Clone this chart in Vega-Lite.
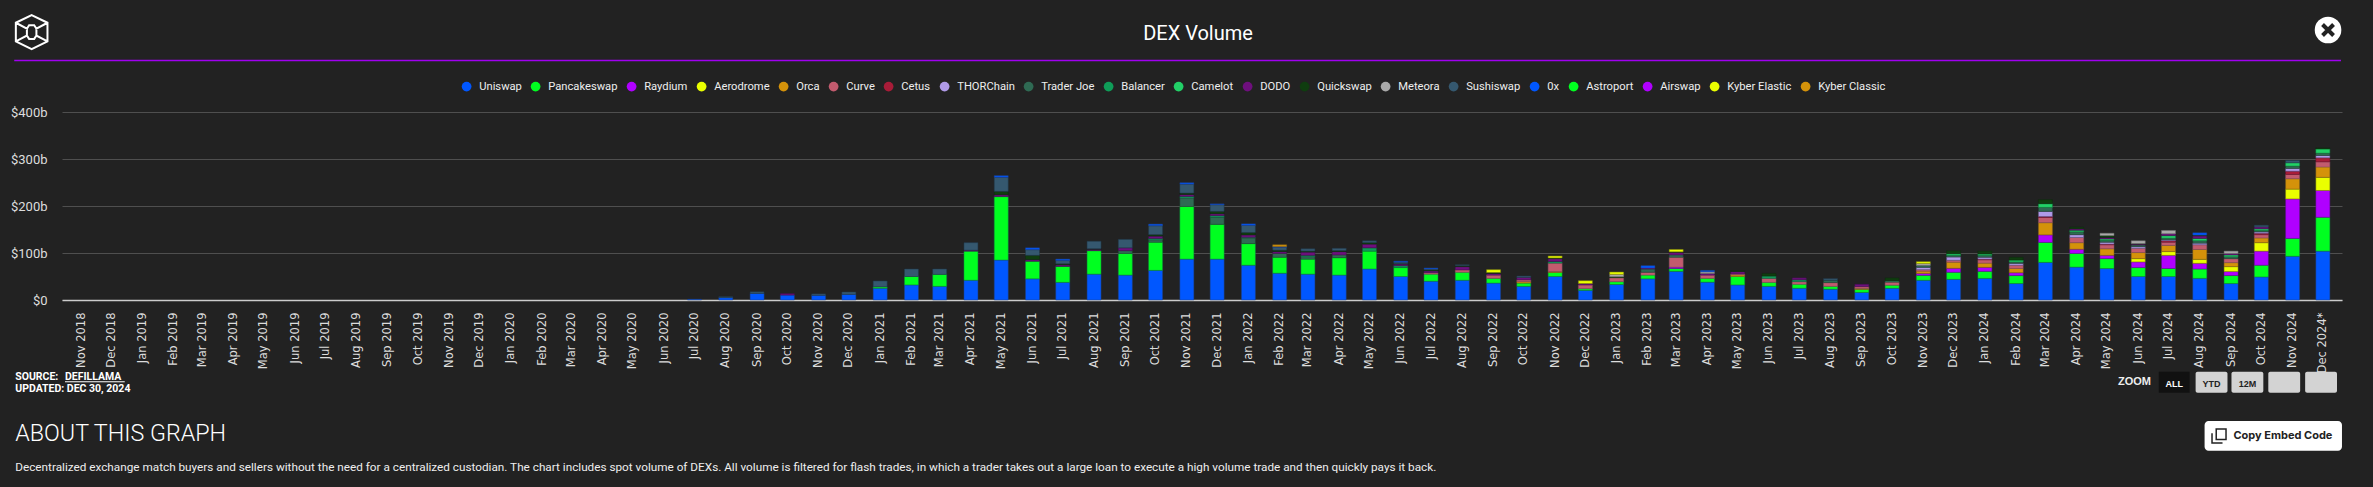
{"$schema":"https://vega.github.io/schema/vega-lite/v6.json","width":2280,"height":188,"autosize":{"type":"none"},"padding":{"left":62,"top":112,"right":31,"bottom":187},"background":"#222222","view":{"stroke":null},"config":{"font":"Roboto"},
"data":{"values":[
{"month":"2020-07-01","Uniswap":1.5},
{"month":"2020-08-01","Uniswap":5,"Sushiswap":2},
{"month":"2020-09-01","Uniswap":14,"Sushiswap":3.5},
{"month":"2020-10-01","Uniswap":10.5,"DODO":3},
{"month":"2020-11-01","Uniswap":10,"Sushiswap":3},
{"month":"2020-12-01","Uniswap":12,"Sushiswap":5},
{"month":"2021-01-01","Uniswap":25,"Pancakeswap":3,"Sushiswap":12.5},
{"month":"2021-02-01","Uniswap":32,"Pancakeswap":18,"Sushiswap":16},
{"month":"2021-03-01","Uniswap":29,"Pancakeswap":25.5,"Sushiswap":11.5},
{"month":"2021-04-01","Uniswap":42,"Pancakeswap":62,"DODO":2,"Sushiswap":16},
{"month":"2021-05-01","Uniswap":85,"Pancakeswap":135,"DODO":4,"Quickswap":7,"Sushiswap":30,"0x":3.5},
{"month":"2021-06-01","Uniswap":45,"Pancakeswap":37.5,"DODO":3.5,"Quickswap":9,"Sushiswap":12,"0x":4},
{"month":"2021-07-01","Uniswap":37.5,"Pancakeswap":34,"DODO":3.5,"Quickswap":2,"Sushiswap":7,"0x":3},
{"month":"2021-08-01","Uniswap":55,"Pancakeswap":50,"DODO":3,"Quickswap":1,"Sushiswap":16},
{"month":"2021-09-01","Uniswap":53,"Pancakeswap":46,"Trader Joe":6,"DODO":6,"Sushiswap":18},
{"month":"2021-10-01","Uniswap":63,"Pancakeswap":60,"Trader Joe":5,"Balancer":3,"DODO":5,"Quickswap":3,"Sushiswap":19,"0x":3.5},
{"month":"2021-11-01","Uniswap":87,"Pancakeswap":112,"Trader Joe":18,"Balancer":3.5,"DODO":4,"Quickswap":3,"Sushiswap":19,"0x":3},
{"month":"2021-12-01","Uniswap":87,"Pancakeswap":74,"Trader Joe":15,"Balancer":3.5,"DODO":4,"Quickswap":5,"Sushiswap":14,"0x":2},
{"month":"2022-01-01","Uniswap":74,"Pancakeswap":46,"Trader Joe":12,"Balancer":1.5,"DODO":5,"Quickswap":5,"Sushiswap":15,"0x":3.5},
{"month":"2022-02-01","Uniswap":57,"Pancakeswap":34,"Trader Joe":8,"DODO":4,"Quickswap":3,"Sushiswap":6,"0x":1.5,"Kyber Classic":4},
{"month":"2022-03-01","Uniswap":55,"Pancakeswap":32,"Trader Joe":5,"Balancer":3,"DODO":7,"Quickswap":2,"Sushiswap":5},
{"month":"2022-04-01","Uniswap":53,"Pancakeswap":37,"Trader Joe":6,"DODO":7,"Quickswap":2,"Sushiswap":5},
{"month":"2022-05-01","Uniswap":66,"Pancakeswap":38,"Balancer":7,"DODO":8,"Quickswap":3,"Sushiswap":4},
{"month":"2022-06-01","Uniswap":50,"Pancakeswap":19,"Balancer":4,"DODO":3.5,"Quickswap":1,"Sushiswap":3,"0x":2},
{"month":"2022-07-01","Uniswap":40,"Pancakeswap":15,"Curve":3,"DODO":4,"Quickswap":2,"Sushiswap":2,"0x":2},
{"month":"2022-08-01","Uniswap":42,"Pancakeswap":17,"Curve":5,"DODO":7,"Quickswap":2,"Sushiswap":2},
{"month":"2022-09-01","Uniswap":36,"Pancakeswap":10,"Curve":7,"DODO":3.5,"Quickswap":2,"Kyber Elastic":6},
{"month":"2022-10-01","Uniswap":29,"Pancakeswap":7,"Orca":3,"Curve":4,"DODO":5,"Sushiswap":3},
{"month":"2022-11-01","Uniswap":50,"Pancakeswap":8.5,"Orca":2,"Curve":18,"Balancer":3.5,"DODO":6,"Quickswap":1.5,"Kyber Elastic":4},
{"month":"2022-12-01","Uniswap":20.5,"Pancakeswap":3.5,"Curve":8,"DODO":3,"Kyber Elastic":6},
{"month":"2023-01-01","Uniswap":33,"Pancakeswap":6,"Curve":8.5,"Meteora":5,"Quickswap":2,"Kyber Elastic":5},
{"month":"2023-02-01","Uniswap":45,"Pancakeswap":8,"Curve":6,"Trader Joe":7,"DODO":2,"0x":5},
{"month":"2023-03-01","Uniswap":61,"Pancakeswap":6,"Raydium":3,"Curve":21,"Trader Joe":5,"DODO":5.5,"Quickswap":1,"Kyber Elastic":5},
{"month":"2023-04-01","Uniswap":38,"Pancakeswap":8,"Curve":7,"Meteora":3.5,"DODO":3.5,"0x":3},
{"month":"2023-05-01","Uniswap":32,"Pancakeswap":18,"Orca":3.5,"Curve":2,"DODO":5,"Quickswap":2},
{"month":"2023-06-01","Uniswap":29,"Pancakeswap":8.5,"Curve":8.5,"Balancer":5,"Quickswap":5.5},
{"month":"2023-07-01","Uniswap":25,"Pancakeswap":8.5,"Curve":5.5,"Balancer":4,"DODO":4},
{"month":"2023-08-01","Uniswap":23,"Pancakeswap":6,"Curve":8,"Trader Joe":5,"Sushiswap":3.5},
{"month":"2023-09-01","Uniswap":16,"Pancakeswap":6.5,"Orca":2,"Curve":4,"DODO":5},
{"month":"2023-10-01","Uniswap":25,"Pancakeswap":6.5,"Curve":6.5,"Trader Joe":3.5,"Quickswap":5.5},
{"month":"2023-11-01","Uniswap":42,"Pancakeswap":10.5,"Raydium":4,"Orca":5,"Curve":3,"THORChain":5,"Trader Joe":4,"Meteora":4,"Kyber Elastic":4},
{"month":"2023-12-01","Uniswap":44,"Pancakeswap":15,"Raydium":8.5,"Orca":13,"Curve":4,"THORChain":7,"Trader Joe":3.5,"Camelot":3.5,"Quickswap":6},
{"month":"2024-01-01","Uniswap":46,"Pancakeswap":15,"Raydium":8.5,"Orca":9,"Curve":7,"Cetus":1.5,"THORChain":4,"Trader Joe":4,"Camelot":3,"Quickswap":6},
{"month":"2024-02-01","Uniswap":35,"Pancakeswap":17,"Raydium":6,"Orca":9,"Curve":7,"THORChain":4,"Trader Joe":3,"Camelot":4,"Quickswap":6},
{"month":"2024-03-01","Uniswap":80,"Pancakeswap":42.5,"Raydium":16,"Orca":26,"Curve":11,"Cetus":2,"THORChain":11,"Trader Joe":8.5,"Camelot":8,"Quickswap":8.5},
{"month":"2024-04-01","Uniswap":70,"Pancakeswap":29,"Raydium":9,"Orca":14,"Curve":11,"THORChain":6,"Trader Joe":6,"Camelot":3.5,"DODO":3,"Quickswap":3.5},
{"month":"2024-05-01","Uniswap":67,"Pancakeswap":21,"Raydium":7,"Orca":14,"Curve":8.5,"Cetus":1.5,"THORChain":4,"Trader Joe":4,"Camelot":3,"DODO":3,"Quickswap":4,"Meteora":5},
{"month":"2024-06-01","Uniswap":50,"Pancakeswap":19,"Raydium":12,"Aerodrome":7,"Orca":13,"Curve":9,"THORChain":3.5,"Trader Joe":3.5,"DODO":2,"Quickswap":1,"Meteora":6},
{"month":"2024-07-01","Uniswap":50,"Pancakeswap":17,"Raydium":28,"Aerodrome":8,"Orca":13,"Curve":7,"Cetus":3,"THORChain":2,"Trader Joe":3.5,"Camelot":5.5,"DODO":4,"Meteora":7},
{"month":"2024-08-01","Uniswap":46,"Pancakeswap":20,"Raydium":12,"Aerodrome":8.5,"Orca":21,"Curve":10,"THORChain":3.5,"Trader Joe":5,"Camelot":5,"DODO":5.5,"Quickswap":1.5,"0x":5},
{"month":"2024-09-01","Uniswap":35,"Pancakeswap":17,"Raydium":8.5,"Aerodrome":10.5,"Orca":8.5,"Curve":8.5,"Trader Joe":4,"Camelot":4,"DODO":3,"Meteora":5},
{"month":"2024-10-01","Uniswap":49,"Pancakeswap":25,"Raydium":30,"Aerodrome":18,"Orca":10,"Curve":7,"Cetus":3,"THORChain":3,"Trader Joe":3,"Camelot":3.5,"DODO":4,"Sushiswap":3.5},
{"month":"2024-11-01","Uniswap":93,"Pancakeswap":38,"Raydium":84,"Aerodrome":21,"Orca":22,"Curve":9,"Cetus":7,"THORChain":6,"Trader Joe":5,"Camelot":7,"Sushiswap":5},
{"month":"2024-12-01","Uniswap":104,"Pancakeswap":72,"Raydium":57,"Aerodrome":28,"Orca":22,"Curve":11,"Cetus":8.5,"THORChain":5,"Trader Joe":5,"Camelot":9,"Quickswap":2}
]},
"layer":[
{"transform":[{"fold":["Uniswap","Pancakeswap","Raydium","Aerodrome","Orca","Curve","Cetus","THORChain","Trader Joe","Balancer","Camelot","DODO","Quickswap","Meteora","Sushiswap","0x","Astroport","Airswap","Kyber Elastic","Kyber Classic"],"as":["dex","volume"]},{"filter":"datum.volume>0"},{"calculate":"indexof(['Uniswap','Pancakeswap','Raydium','Aerodrome','Orca','Curve','Cetus','THORChain','Trader Joe','Balancer','Camelot','DODO','Quickswap','Meteora','Sushiswap','0x','Astroport','Airswap','Kyber Elastic','Kyber Classic'],datum.dex)","as":"rank"}],
"mark":{"type":"bar","size":14,"strokeWidth":1,"strokeOpacity":0.5},
"encoding":{
"x":{"field":"month","type":"temporal","scale":{"type":"utc","domain":["2018-10-18","2024-12-15"]},"axis":{"title":null,"tickCount":{"interval":"month","step":1},"labelExpr":"utcFormat(datum.value,'%b %Y')+(datum.value>1733000000000?'*':'')","labelAngle":-90,"labelAlign":"right","labelBaseline":"middle","labelFont":"DejaVu Sans","labelFontSize":11.5,"labelColor":"#dddddd","labelPadding":12,"labelOverlap":false,"labelBound":false,"labelFlush":false,"ticks":false,"grid":false,"domainColor":"#cccccc","domainWidth":1.5}},
"y":{"field":"volume","type":"quantitative","stack":"zero","scale":{"domain":[0,400],"nice":false},"axis":{"title":null,"values":[0,100,200,300,400],"labelExpr":"'$'+datum.value+(datum.value>0?'b':'')","labelFont":"Roboto","labelFontSize":13,"labelColor":"#dddddd","labelPadding":15,"ticks":false,"domain":false,"grid":true,"gridColor":"#4f4f4f","gridWidth":1}},
"order":{"field":"rank","type":"quantitative"},
"fill":{"field":"dex","type":"nominal","scale":{"domain":["Uniswap","Pancakeswap","Raydium","Aerodrome","Orca","Curve","Cetus","THORChain","Trader Joe","Balancer","Camelot","DODO","Quickswap","Meteora","Sushiswap","0x","Astroport","Airswap","Kyber Elastic","Kyber Classic"],"range":["#0057ff","#00ff20","#b000ff","#eaff00","#d4920a","#c25b6e","#a81c38","#b09ae8","#2f6a53","#0f9d58","#22d067","#6e0f7d","#0f3d0f","#a9a9a9","#35586f","#0057ff","#00ff20","#b000ff","#eaff00","#d4920a"]},"legend":{"title":null,"orient":"none","legendX":399,"legendY":-31,"direction":"horizontal","columns":20,"gridAlign":"none","symbolType":"circle","symbolSize":95,"symbolStrokeWidth":0,"labelFont":"Roboto","labelFontSize":11.2,"labelColor":"#eeeeee","labelOffset":7,"columnPadding":8,"labelLimit":200}},
"stroke":{"field":"dex","type":"nominal","legend":null,"scale":{"domain":["Uniswap","Pancakeswap","Raydium","Aerodrome","Orca","Curve","Cetus","THORChain","Trader Joe","Balancer","Camelot","DODO","Quickswap","Meteora","Sushiswap","0x","Astroport","Airswap","Kyber Elastic","Kyber Classic"],"range":["#1f3f80","#108040","#60108f","#807f10","#80601a","#805060","#701030","#605080","#204030","#106040","#108040","#401050","#102a10","#707070","#20384a","#1f3f80","#108040","#60108f","#807f10","#80601a"]}}
}},
{"data":{"values":[{}]},"mark":{"type":"rule","color":"#a000f0","strokeWidth":1.5},"encoding":{"x":{"datum":1535301850000,"type":"temporal"},"x2":{"datum":1734561850000},"y":{"datum":509.6,"type":"quantitative"}}},
{"data":{"values":[{}]},"mark":{"type":"point","shape":"M0,-1L0.93,-0.55L0.93,0.55L0,1L-0.93,0.55L-0.93,-0.55ZM-0.93,-0.55L-0.28,-0.2L-0.15,-0.4L0.15,-0.4L0.28,-0.2L0.93,-0.55M-0.93,0.55L-0.28,0.2L-0.15,0.4L0.15,0.4L0.28,0.2L0.93,0.55M-0.28,-0.2L-0.28,0.2M0.28,-0.2L0.28,0.2","size":1156,"filled":false,"stroke":"#ffffff","strokeWidth":2,"opacity":1},"encoding":{"x":{"datum":1536793960000,"type":"temporal"},"y":{"datum":570,"type":"quantitative"}}},
{"data":{"values":[{}]},"mark":{"type":"circle","size":707,"color":"#ffffff","opacity":1},"encoding":{"x":{"datum":1733453430000,"type":"temporal"},"y":{"datum":574.5,"type":"quantitative"}}},
{"data":{"values":[{}]},"mark":{"type":"point","shape":"M-1,-1L1,1M-1,1L1,-1","size":121,"filled":false,"stroke":"#222222","strokeWidth":4,"opacity":1},"encoding":{"x":{"datum":1733453430000,"type":"temporal"},"y":{"datum":574.5,"type":"quantitative"}}},
{"data":{"values":[{"t":"DEX Volume"}]},"mark":{"type":"text","font":"Roboto","fontSize":20,"color":"#ffffff","align":"center","baseline":"middle"},"encoding":{"x":{"datum":1636679750000,"type":"temporal"},"y":{"datum":566,"type":"quantitative"},"text":{"field":"t"}}},
{"data":{"values":[{"t":"SOURCE:"}]},"mark":{"type":"text","font":"Roboto","fontWeight":"bold","fontSize":10.5,"color":"#ffffff","align":"left","baseline":"middle"},"encoding":{"x":{"datum":1535387120000,"type":"temporal"},"y":{"datum":-163.8,"type":"quantitative"},"text":{"field":"t"}}},
{"data":{"values":[{"t":"DEFILLAMA"}]},"mark":{"type":"text","font":"Roboto","fontWeight":"bold","fontSize":10.5,"color":"#ffffff","align":"left","baseline":"middle"},"encoding":{"x":{"datum":1539650274000,"type":"temporal"},"y":{"datum":-163.8,"type":"quantitative"},"text":{"field":"t"}}},
{"data":{"values":[{}]},"mark":{"type":"rule","color":"#ffffff","strokeWidth":1},"encoding":{"x":{"datum":1539650274000,"type":"temporal"},"x2":{"datum":1544766063000},"y":{"datum":-174,"type":"quantitative"}}},
{"data":{"values":[{"t":"UPDATED: DEC 30, 2024"}]},"mark":{"type":"text","font":"Roboto","fontWeight":"bold","fontSize":10.5,"color":"#ffffff","align":"left","baseline":"middle"},"encoding":{"x":{"datum":1535387120000,"type":"temporal"},"y":{"datum":-189.4,"type":"quantitative"},"text":{"field":"t"}}},
{"data":{"values":[{"t":"ABOUT THIS GRAPH"}]},"mark":{"type":"text","font":"Roboto","fontWeight":300,"fontSize":23.3,"color":"#ffffff","align":"left","baseline":"middle"},"encoding":{"x":{"datum":1535387120000,"type":"temporal"},"y":{"datum":-285,"type":"quantitative"},"text":{"field":"t"}}},
{"data":{"values":[{"t":"Decentralized exchange match buyers and sellers without the need for a centralized custodian. The chart includes spot volume of DEXs. All volume is filtered for flash trades, in which a trader takes out a large loan to execute a high volume trade and then quickly pays it back."}]},"mark":{"type":"text","font":"Roboto","fontSize":11.75,"color":"#eeeeee","align":"left","baseline":"middle","limit":1600},"encoding":{"x":{"datum":1535387120000,"type":"temporal"},"y":{"datum":-354.7,"type":"quantitative"},"text":{"field":"t"}}},
{"data":{"values":[{"t":"ZOOM"}]},"mark":{"type":"text","font":"Liberation Sans","fontWeight":"bold","fontSize":11,"color":"#eeeeee","align":"left","baseline":"middle"},"encoding":{"x":{"datum":1715462900000,"type":"temporal"},"y":{"datum":-174.5,"type":"quantitative"},"text":{"field":"t"}}},
{"data":{"values":[{}]},"mark":{"type":"rect","color":"#111111"},"encoding":{"x":{"datum":1718958700000,"type":"temporal"},"x2":{"datum":1721601850000},"y":{"datum":-152.6,"type":"quantitative"},"y2":{"datum":-197.2}}},
{"data":{"values":[{}]},"mark":{"type":"rect","color":"#d3d3d3","cornerRadius":2},"encoding":{"x":{"datum":1722113430000,"type":"temporal"},"x2":{"datum":1724841850000},"y":{"datum":-152.6,"type":"quantitative"},"y2":{"datum":-197.2}}},
{"data":{"values":[{}]},"mark":{"type":"rect","color":"#d3d3d3","cornerRadius":2},"encoding":{"x":{"datum":1725182900000,"type":"temporal"},"x2":{"datum":1727911300000},"y":{"datum":-152.6,"type":"quantitative"},"y2":{"datum":-197.2}}},
{"data":{"values":[{}]},"mark":{"type":"rect","color":"#d3d3d3","cornerRadius":2},"encoding":{"x":{"datum":1728337600000,"type":"temporal"},"x2":{"datum":1731066100000},"y":{"datum":-152.6,"type":"quantitative"},"y2":{"datum":-197.2}}},
{"data":{"values":[{}]},"mark":{"type":"rect","color":"#d3d3d3","cornerRadius":2},"encoding":{"x":{"datum":1731492400000,"type":"temporal"},"x2":{"datum":1734220800000},"y":{"datum":-152.6,"type":"quantitative"},"y2":{"datum":-197.2}}},
{"data":{"values":[{"t":"ALL"}]},"mark":{"type":"text","font":"Liberation Sans","fontWeight":"bold","fontSize":9,"color":"#ffffff","align":"center","baseline":"middle"},"encoding":{"x":{"datum":1720280300000,"type":"temporal"},"y":{"datum":-178.7,"type":"quantitative"},"text":{"field":"t"}}},
{"data":{"values":[{"t":"YTD"}]},"mark":{"type":"text","font":"Liberation Sans","fontWeight":"bold","fontSize":9,"color":"#222222","align":"center","baseline":"middle"},"encoding":{"x":{"datum":1723477600000,"type":"temporal"},"y":{"datum":-178.7,"type":"quantitative"},"text":{"field":"t"}}},
{"data":{"values":[{"t":"12M"}]},"mark":{"type":"text","font":"Liberation Sans","fontWeight":"bold","fontSize":9,"color":"#222222","align":"center","baseline":"middle"},"encoding":{"x":{"datum":1726547100000,"type":"temporal"},"y":{"datum":-178.7,"type":"quantitative"},"text":{"field":"t"}}},
{"data":{"values":[{}]},"mark":{"type":"rect","color":"#ffffff","cornerRadius":4},"encoding":{"x":{"datum":1722880800000,"type":"temporal"},"x2":{"datum":1734647100000},"y":{"datum":-257.4,"type":"quantitative"},"y2":{"datum":-320.6}}},
{"data":{"values":[{}]},"mark":{"type":"point","shape":"M-0.4,-1L1,-1L1,0.5L-0.4,0.5ZM-1,-0.4L-1,1L0.5,1","size":196,"filled":false,"stroke":"#222222","strokeWidth":1.5,"opacity":1},"encoding":{"x":{"datum":1724117100000,"type":"temporal"},"y":{"datum":-289.4,"type":"quantitative"}}},
{"data":{"values":[{"t":"Copy Embed Code"}]},"mark":{"type":"text","font":"Inter","fontWeight":"bold","fontSize":11,"color":"#222222","align":"left","baseline":"middle"},"encoding":{"x":{"datum":1725353400000,"type":"temporal"},"y":{"datum":-289.4,"type":"quantitative"},"text":{"field":"t"}}}
]}
